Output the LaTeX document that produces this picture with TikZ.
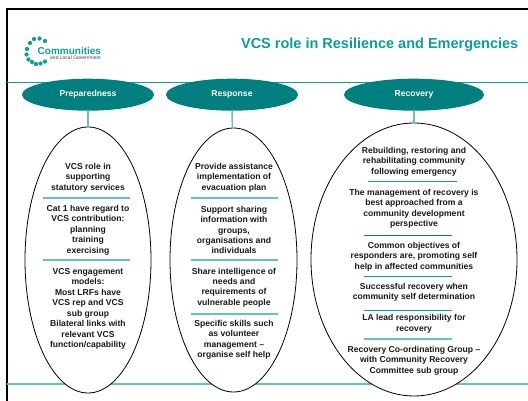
\documentclass[tikz,border=0pt]{standalone}
\usepackage{fontspec}
\setmainfont{Liberation Sans}
\usetikzlibrary{shapes.geometric}
\definecolor{tealdark}{HTML}{007F7F}
\definecolor{teallight}{HTML}{66C2BE}
\definecolor{titleteal}{HTML}{0E9E9A}
\tikzset{x=1pt,y=-1pt,
 head/.style={ellipse,fill=tealdark,inner sep=0pt,text=white,font=\bfseries\fontsize{8.6}{10}\selectfont},
 oval/.style={ellipse,draw=black,line width=0.8pt,fill=white,inner sep=0pt},
 rule/.style={draw=teallight,line width=1.5pt},
 link/.style={draw=teallight,line width=1.5pt},
 body/.style={align=center,inner sep=0pt,yshift=-1pt,text=black!90,font=\bfseries\fontsize{8.6}{10.45}\selectfont},
 dot/.style={circle,fill=titleteal,inner sep=0pt,minimum size=4.3pt}}
\newcommand{\dropped}[1]{\raisebox{-1.5pt}{#1}}
\begin{document}
\begin{tikzpicture}
\useasboundingbox (0,0) rectangle (528,401);
\fill[white] (0,0) rectangle (528,401);
\draw[black,line width=2pt] (7,401) -- (7,9) -- (528,9);
\coordinate (tl) at (7,82.3); \coordinate (tr) at (528,82.3);
\coordinate (bl) at (7,384); \coordinate (br) at (528,384);
\draw[draw=titleteal,line width=0.9pt] (tl) -- (tr);
\draw[link] (bl) -- (br);
% logo
\foreach \n/\a/\b in {a/45/41,b/39.5/38.5,c/34/39,d/30/43,e/27/49,f/26.5/54.5,g/28.5/59.5,h/32/62,i/36/64,j/40.5/63.5,k/45/61.5}{
 \node[dot] (\n) at (\a,\b) {};}
\node[anchor=west,inner sep=0pt,text=titleteal,font=\bfseries\fontsize{10}{12}\selectfont] (logo) at (37.5,50.5) {Communities};
\node[anchor=west,inner sep=0pt,text=black!75,font=\fontsize{5}{6}\selectfont] (logo2) at (50,57.5) {and Local Government};
\node[inner sep=0pt,anchor=east,text=titleteal,font=\bfseries\fontsize{14.5}{16}\selectfont] (title) at (518.5,45) {VCS role in Resilience and Emergencies};
% ovals
\node[oval,minimum width=126pt,minimum height=266pt] (o1) at (88,260) {};
\node[oval,minimum width=127pt,minimum height=264pt] (o2) at (233.5,260) {};
\node[oval,minimum width=206pt,minimum height=273pt] (o3) at (414,259.5) {};
% heads
\node[head,minimum width=132pt,minimum height=32pt] (h1) at (88,94.7) {\dropped{Preparedness}};
\node[head,minimum width=132pt,minimum height=32pt] (h2) at (232,94.7) {\dropped{Response}};
\node[head,minimum width=140pt,minimum height=32pt] (h3) at (414,94.7) {\dropped{Recovery}};
\draw[link] (h1) -- (o1);
\draw[link] (h2) -- (o2);
\draw[link] (h3) -- (o3);
% column 1
\node[body] (a1) at (88,176.5) {VCS role in\\supporting\\statutory services};
\coordinate (a1l) at (43,198); \coordinate (a1r) at (130,198);
\draw[rule] (a1l) -- (a1r);
\node[body] (a2) at (88,229) {Cat 1 have regard to\\VCS contribution:\\planning\\training\\exercising};
\coordinate (a2l) at (43,260); \coordinate (a2r) at (130,260);
\draw[rule] (a2l) -- (a2r);
\node[body] (a3) at (88,308) {VCS engagement\\models:\\Most LRFs have\\VCS rep and VCS\\sub group\\Bilateral links with\\relevant VCS\\function/capability};
% column 2
\node[body] (b1) at (234,176.5) {Provide assistance\\implementation of\\evacuation plan};
\coordinate (b1l) at (191,198); \coordinate (b1r) at (278,198);
\draw[rule] (b1l) -- (b1r);
\node[body] (b2) at (234,229) {Support sharing\\information with\\groups,\\organisations and\\individuals};
\coordinate (b2l) at (191,260); \coordinate (b2r) at (278,260);
\draw[rule] (b2l) -- (b2r);
\node[body] (b3) at (234,286.5) {Share intelligence of\\needs and\\requirements of\\vulnerable people};
\coordinate (b3l) at (191,314); \coordinate (b3r) at (278,314);
\draw[rule] (b3l) -- (b3r);
\node[body] (b4) at (234,339) {Specific skills such\\as volunteer\\management --\\organise self help};
% column 3
\node[body] (c1) at (414,160.5) {Rebuilding, restoring and\\rehabilitating community\\following emergency};
\coordinate (c1l) at (368,182); \coordinate (c1r) at (457,182);
\draw[draw=titleteal,line width=1pt] (c1l) -- (c1r);
\node[body] (c2) at (414,208) {The management of recovery is\\best approached from a\\community development\\perspective};
\coordinate (c2l) at (364,235); \coordinate (c2r) at (452,235);
\draw[draw=tealdark,line width=0.9pt] (c2l) -- (c2r);
\node[body] (c3) at (414,255.5) {Common objectives of\\responders are, promoting self\\help in affected communities};
\coordinate (c3l) at (364,276); \coordinate (c3r) at (452,276);
\draw[draw=titleteal,line width=1pt] (c3l) -- (c3r);
\node[body] (c4) at (414,291.5) {Successful recovery when\\community self determination};
\coordinate (c4l) at (364,310); \coordinate (c4r) at (452,310);
\draw[draw=titleteal,line width=1pt] (c4l) -- (c4r);
\node[body] (c5) at (414,323) {LA lead responsibility for\\recovery};
\coordinate (c5l) at (364,339); \coordinate (c5r) at (452,339);
\draw[rule] (c5l) -- (c5r);
\node[body] (c6) at (414,359.5) {Recovery Co-ordinating Group --\\with Community Recovery\\Committee sub group};
\end{tikzpicture}
\end{document}
